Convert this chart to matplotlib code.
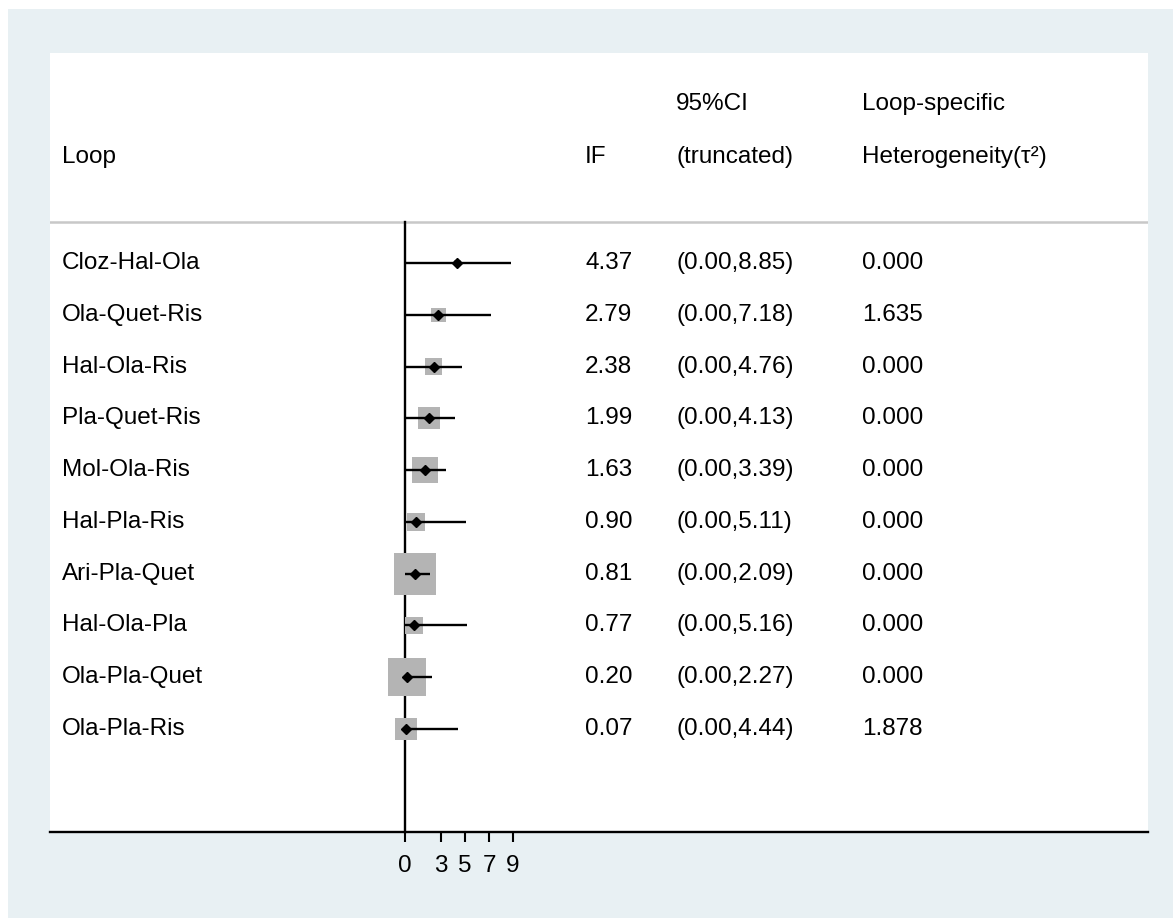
import numpy as np
import matplotlib.pyplot as plt
from matplotlib.patches import Rectangle
from matplotlib.transforms import blended_transform_factory

plt.rcParams['font.family'] = ['Liberation Sans', 'DejaVu Sans']

loops = ['Cloz-Hal-Ola', 'Ola-Quet-Ris', 'Hal-Ola-Ris', 'Pla-Quet-Ris', 'Mol-Ola-Ris',
         'Hal-Pla-Ris', 'Ari-Pla-Quet', 'Hal-Ola-Pla', 'Ola-Pla-Quet', 'Ola-Pla-Ris']
IF = [4.37, 2.79, 2.38, 1.99, 1.63, 0.90, 0.81, 0.77, 0.20, 0.07]
ci_lo = [0.00, 0.00, 0.00, 0.00, 0.00, 0.00, 0.00, 0.00, 0.00, 0.00]
ci_hi = [8.85, 7.18, 4.76, 4.13, 3.39, 5.11, 2.09, 5.16, 2.27, 4.44]
tau2 = [0.000, 1.635, 0.000, 0.000, 0.000, 0.000, 0.000, 0.000, 0.000, 1.878]
# relative loop weights (box area)
weights = [0.4, 2.0, 2.9, 4.8, 6.8, 3.2, 17.6, 3.2, 14.4, 4.8]
xticks = [0, 3, 5, 7, 9]

W, H = 1173, 918
fig = plt.figure(figsize=(W / 100, H / 100), dpi=100, facecolor='white')
fig.patches.append(Rectangle((8 / W, 0), 1 - 8 / W, 1 - 9 / H, transform=fig.transFigure,
                             facecolor='#e8f0f3', edgecolor='none', zorder=-1))

ax = fig.add_axes([50 / W, (H - 832) / H, (1148 - 50) / W, (832 - 53) / H])
ax.set_facecolor('white')
ax.set_xlim(-(405 - 50) / 12, (1148 - 405) / 12)
ax.set_ylim(10.99, -4.06)

fs = 17.5
y = np.arange(len(loops))
sep = -0.79

ax.axhline(sep, color='#c8c8c8', lw=1.8, zorder=1)
ax.plot([0, 0], [sep, 10.99], color='black', lw=1.7, zorder=2, clip_on=False)

side_pt = 10 * np.sqrt(weights) * 0.72
ax.scatter(IF, y, s=side_pt ** 2, marker='s', color='#b4b4b4', linewidths=0, zorder=3)
ax.hlines(y, ci_lo, ci_hi, color='black', lw=1.7, zorder=4)
ax.plot(IF, y, 'D', color='black', ms=5.5, zorder=5)

tr = blended_transform_factory(ax.transAxes, ax.transData)
cols = [(62 - 50) / 1098, (585 - 50) / 1098, (676 - 50) / 1098, (862 - 50) / 1098]

ax.text(cols[2], -3.07, '95%CI', transform=tr, fontsize=fs, va='center')
ax.text(cols[3], -3.07, 'Loop-specific', transform=tr, fontsize=fs, va='center')
ax.text(cols[0], -2.05, 'Loop', transform=tr, fontsize=fs, va='center')
ax.text(cols[1], -2.05, 'IF', transform=tr, fontsize=fs, va='center')
ax.text(cols[2], -2.05, '(truncated)', transform=tr, fontsize=fs, va='center')
ax.text(cols[3], -2.05, 'Heterogeneity(τ²)', transform=tr, fontsize=fs, va='center')

for i in range(len(loops)):
    ax.text(cols[0], i, loops[i], transform=tr, fontsize=fs, va='center')
    ax.text(cols[1], i, f'{IF[i]:.2f}', transform=tr, fontsize=fs, va='center')
    ax.text(cols[2], i, f'({ci_lo[i]:.2f},{ci_hi[i]:.2f})', transform=tr, fontsize=fs, va='center')
    ax.text(cols[3], i, f'{tau2[i]:.3f}', transform=tr, fontsize=fs, va='center')

for s in ['top', 'left', 'right']:
    ax.spines[s].set_visible(False)
ax.spines['bottom'].set_linewidth(1.7)
ax.set_xticks(xticks)
ax.set_yticks([])
ax.tick_params(axis='x', length=7.2, width=1.5, labelsize=fs, pad=9)

fig.savefig('out.png', dpi=100, facecolor=fig.get_facecolor())
